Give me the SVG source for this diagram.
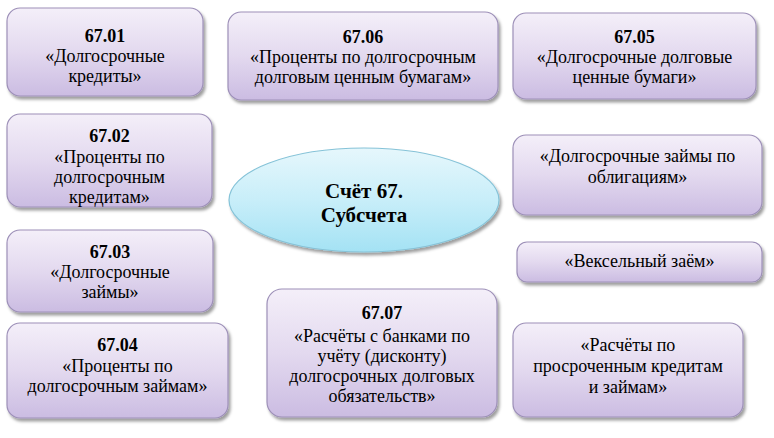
<svg xmlns="http://www.w3.org/2000/svg" width="774" height="438" viewBox="0 0 774 438">
<defs>
<linearGradient id="gBox" x1="0" y1="0" x2="0" y2="1">
<stop offset="0" stop-color="#f4eff9"/>
<stop offset="0.5" stop-color="#e3d9ef"/>
<stop offset="1" stop-color="#cbbce2"/>
</linearGradient>
<linearGradient id="gEll" x1="0" y1="0" x2="0" y2="1">
<stop offset="0" stop-color="#e6f7fc"/>
<stop offset="0.5" stop-color="#c8eef9"/>
<stop offset="1" stop-color="#a4e2f4"/>
</linearGradient>
<filter id="sh" x="-10%" y="-10%" width="125%" height="130%">
<feDropShadow dx="2" dy="3" stdDeviation="1.8" flood-color="#000" flood-opacity="0.38"/>
</filter>
</defs>
<style>
.box{fill:url(#gBox);stroke:#9d90b8;stroke-width:1.2;filter:url(#sh)}
.ell{fill:url(#gEll);stroke:#86c3d8;stroke-width:1.2;filter:url(#sh)}
text{font-family:"Liberation Serif","Times New Roman",serif;font-size:18px;fill:#000;text-anchor:middle}
.b{font-weight:bold}
.big{font-size:21px;font-weight:bold}
</style>
<rect width="774" height="438" fill="#ffffff"/>
<g id="connectors"/>
<g id="n6701">
<rect class="box" x="7" y="8" width="196" height="88" rx="13"/>
<text x="105" y="42" class="b">67.01</text>
<text x="105" y="62">«Долгосрочные</text>
<text x="105" y="82">кредиты»</text>
</g>
<g id="n6706">
<rect class="box" x="228" y="12" width="270" height="88" rx="13"/>
<text x="363" y="43" class="b">67.06</text>
<text x="363" y="63">«Проценты по долгосрочным</text>
<text x="363" y="83">долговым ценным бумагам»</text>
</g>
<g id="n6705">
<rect class="box" x="513" y="13" width="243" height="86" rx="13"/>
<text x="634.5" y="43" class="b">67.05</text>
<text x="634.5" y="63">«Долгосрочные долговые</text>
<text x="634.5" y="83">ценные бумаги»</text>
</g>
<g id="n6702">
<rect class="box" x="7" y="114" width="205" height="93" rx="13"/>
<text x="109.5" y="142" class="b">67.02</text>
<text x="109.5" y="163">«Проценты по</text>
<text x="109.5" y="183">долгосрочным</text>
<text x="109.5" y="203">кредитам»</text>
</g>
<g id="center">
<ellipse class="ell" cx="364" cy="200" rx="135" ry="52"/>
<text x="364" y="198" class="big">Счёт 67.</text>
<text x="364" y="222" class="big">Субсчета</text>
</g>
<g id="nObl">
<rect class="box" x="513" y="135" width="249" height="80" rx="13"/>
<text x="637.5" y="162">«Долгосрочные займы по</text>
<text x="637.5" y="183">облигациям»</text>
</g>
<g id="nVeks">
<rect class="box" x="517" y="242" width="245" height="40" rx="10"/>
<text x="639.5" y="267">«Вексельный заём»</text>
</g>
<g id="n6703">
<rect class="box" x="7" y="230" width="206" height="82" rx="13"/>
<text x="110" y="258" class="b">67.03</text>
<text x="110" y="278">«Долгосрочные</text>
<text x="110" y="298">займы»</text>
</g>
<g id="n6704">
<rect class="box" x="7" y="323" width="221" height="95" rx="13"/>
<text x="117.5" y="351" class="b">67.04</text>
<text x="117.5" y="372">«Проценты по</text>
<text x="117.5" y="392">долгосрочным займам»</text>
</g>
<g id="n6707">
<rect class="box" x="267" y="289" width="230" height="128" rx="15"/>
<text x="382" y="319" class="b">67.07</text>
<text x="382" y="342">«Расчёты с банками по</text>
<text x="382" y="362">учёту (дисконту)</text>
<text x="382" y="382">долгосрочных долговых</text>
<text x="382" y="402">обязательств»</text>
</g>
<g id="nProsr">
<rect class="box" x="513" y="323" width="230" height="94" rx="13"/>
<text x="628" y="351">«Расчёты по</text>
<text x="628" y="372">просроченным кредитам</text>
<text x="628" y="393">и займам»</text>
</g>
</svg>
